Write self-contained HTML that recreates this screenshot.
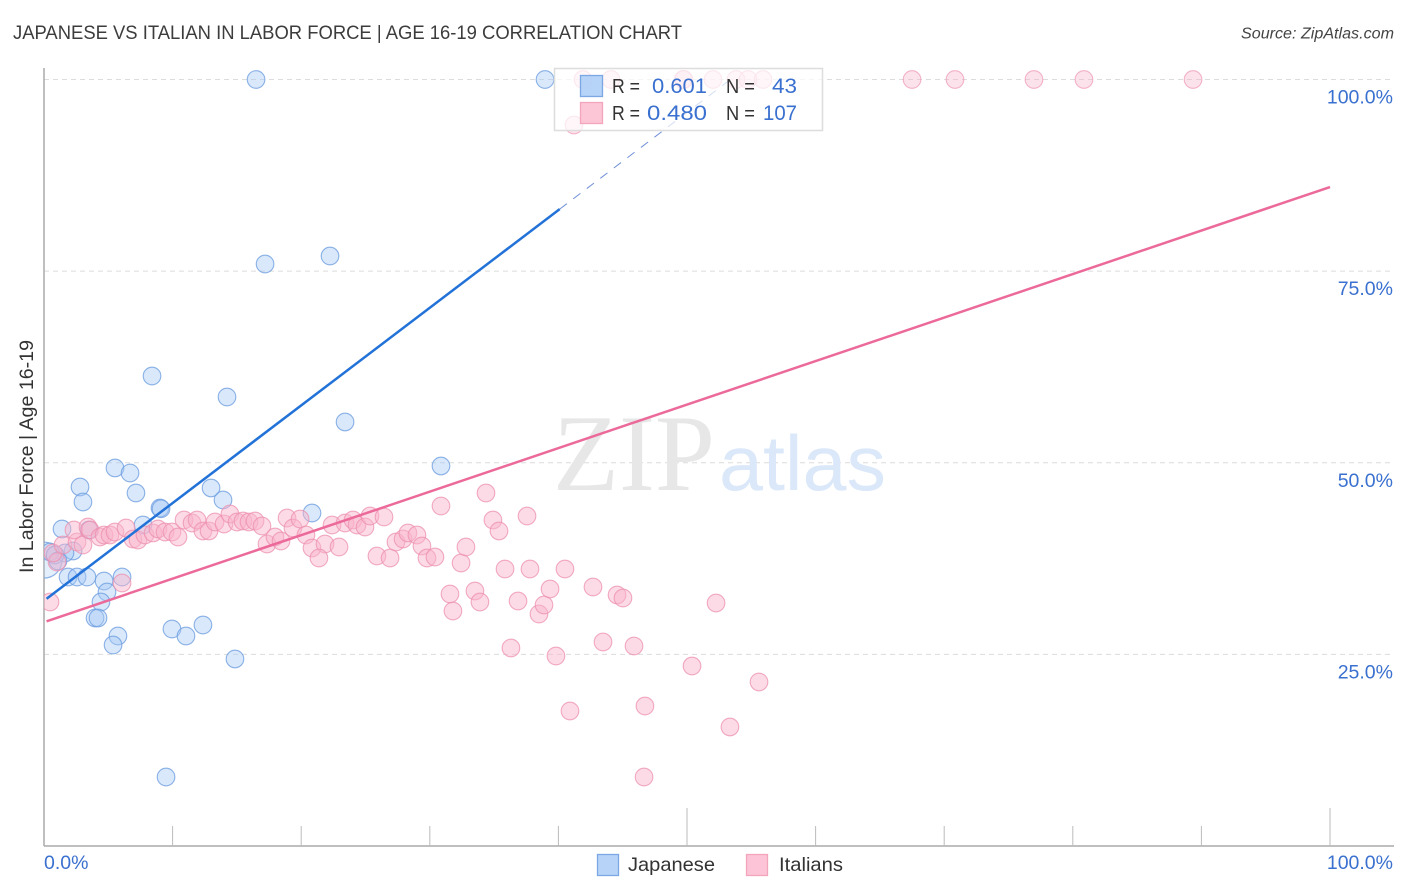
<!DOCTYPE html>
<html lang="en">
<head>
<meta charset="utf-8">
<title>Japanese vs Italian in Labor Force | Age 16-19 Correlation Chart</title>
<style>
html,body{margin:0;padding:0;background:#fff;width:1406px;height:892px;overflow:hidden}
svg{display:block}
text{font-family:"Liberation Sans",sans-serif}
</style>
</head>
<body>
<svg id="chart" width="1406" height="892" viewBox="0 0 1406 892" xmlns="http://www.w3.org/2000/svg">
  <defs>
    <clipPath id="plot-clip"><rect x="44" y="60" width="1350" height="786"/></clipPath>
  </defs>
  <rect width="1406" height="892" fill="#ffffff"/>
  <text x="13" y="39" font-size="19" fill="#3c3c3c" textLength="669" lengthAdjust="spacingAndGlyphs">JAPANESE VS ITALIAN IN LABOR FORCE | AGE 16-19 CORRELATION CHART</text>
  <text x="1241" y="38.5" font-size="15.5" font-style="italic" fill="#444444" textLength="153" lengthAdjust="spacingAndGlyphs">Source: ZipAtlas.com</text>
  <g id="grid"></g>
  <g>
    <text x="553" y="490" font-size="109" fill="#e7e7e7" style="font-family:'Liberation Serif',serif" textLength="162" lengthAdjust="spacingAndGlyphs">ZIP</text>
    <text x="719" y="490" font-size="78" fill="#dbe8f9" textLength="167" lengthAdjust="spacingAndGlyphs">atlas</text>
  </g>
  <g id="axes"></g>
  <g clip-path="url(#plot-clip)">
    <g id="points-japanese"></g>
    <g id="points-italian"></g>
    <g id="fits"></g>
  </g>
  <text transform="translate(33,573) rotate(-90)" font-size="19" fill="#333333" textLength="233" lengthAdjust="spacingAndGlyphs">In Labor Force | Age 16-19</text>
  <g id="tick-labels"></g>
  <g>
    <rect x="554.5" y="68.5" width="268" height="62" fill="#ffffff" fill-opacity="0.7" stroke="#dddddd" stroke-width="1.5"/>
    <rect x="580.5" y="75.5" width="22" height="21" fill="#a9cbf7" fill-opacity="0.85" stroke="#7ba7e4" stroke-width="1.3"/>
    <rect x="580.5" y="102.5" width="22" height="21" fill="#fcc0d3" fill-opacity="0.9" stroke="#f3a5bd" stroke-width="1.3"/>
    <text x="612" y="93" font-size="20" fill="#333333" textLength="28" lengthAdjust="spacingAndGlyphs">R =</text>
    <text x="652" y="93" font-size="21.5" fill="#3a70cf" textLength="55" lengthAdjust="spacingAndGlyphs">0.601</text>
    <text x="726" y="93" font-size="20" fill="#333333" textLength="29" lengthAdjust="spacingAndGlyphs">N =</text>
    <text x="772" y="93" font-size="21.5" fill="#3a70cf" textLength="25" lengthAdjust="spacingAndGlyphs">43</text>
    <text x="612" y="120" font-size="20" fill="#333333" textLength="28" lengthAdjust="spacingAndGlyphs">R =</text>
    <text x="647" y="120" font-size="21.5" fill="#3a70cf" textLength="60" lengthAdjust="spacingAndGlyphs">0.480</text>
    <text x="726" y="120" font-size="20" fill="#333333" textLength="29" lengthAdjust="spacingAndGlyphs">N =</text>
    <text x="763" y="120" font-size="21.5" fill="#3a70cf" textLength="34" lengthAdjust="spacingAndGlyphs">107</text>
  </g>
  <g>
    <g>
      <rect x="597.5" y="854.5" width="21" height="21" fill="#b7d4f8" stroke="#7ba7e4" stroke-width="1.3"/>
      <text x="628" y="871" font-size="19.5" fill="#333333" textLength="87" lengthAdjust="spacingAndGlyphs">Japanese</text>
    </g>
    <g>
      <rect x="746.5" y="854.5" width="21" height="21" fill="#fcc4d6" stroke="#f3a5bd" stroke-width="1.3"/>
      <text x="779" y="871" font-size="19.5" fill="#333333" textLength="64" lengthAdjust="spacingAndGlyphs">Italians</text>
    </g>
  </g>
</svg>
<script>
const japaneseX = [0,16.49,38.96,17.19,22.24,8.40,14.23,23.41,30.87,5.52,6.69,2.80,3.03,7.15,12.99,13.92,9.02,9.10,20.84,7.70,1.40,3.50,2.26,1.63,0.47,0.86,1.09,1.87,2.57,3.34,6.07,4.67,4.90,4.43,3.97,4.20,5.75,5.37,9.95,11.04,12.36,14.85,9.49];
const japaneseY = [37.3,100,100,75.93,76.97,61.32,58.58,55.32,49.58,49.32,48.66,46.84,44.88,46.05,46.71,45.14,44.10,44.00,43.44,41.88,41.36,41.23,38.49,38.23,38.36,37.96,37.18,35.09,35.09,35.09,35.09,34.57,33.14,31.83,29.75,29.75,27.40,26.22,28.31,27.40,28.83,24.40,9.00];
const italianX = [41.91,44.09,49.69,49.77,52.02,53.81,54.74,55.91,67.50,70.84,76.98,80.87,89.35,41.21,0.47,6.07,1.01,0.70,1.48,2.57,3.03,2.33,3.42,3.58,4.35,4.67,5.13,5.52,6.38,6.92,7.31,7.85,8.48,8.86,9.41,9.95,10.42,10.89,11.51,11.90,12.36,12.83,13.30,14.00,14.46,15.01,15.47,15.94,16.41,16.95,17.34,17.96,18.43,18.90,19.36,19.91,20.37,20.84,21.85,21.38,22.94,22.40,23.41,24.03,24.34,24.96,25.35,26.44,25.89,26.91,27.37,27.92,28.30,29.00,29.39,29.78,30.40,30.87,31.57,31.80,32.43,32.81,33.51,33.90,34.37,34.91,35.38,35.85,36.31,36.86,37.56,37.79,38.49,38.88,39.35,39.81,40.51,40.90,42.69,43.47,44.56,45.02,45.88,46.66,46.73,50.39,52.26,53.34,55.60];
const italianY = [100,100,100,100,100,100,100,100,100,100,100,100,100,94.06,31.83,34.31,37.05,38.23,39.27,39.66,39.27,41.23,41.62,41.23,40.31,40.57,40.57,40.97,41.49,40.05,39.92,40.57,40.84,41.36,40.97,40.97,40.31,42.53,42.14,42.53,41.10,41.10,42.27,42.01,43.31,42.27,42.40,42.27,42.40,41.75,39.40,40.31,39.79,42.79,41.49,42.66,40.57,38.88,39.40,37.57,39.01,41.88,42.14,42.53,41.88,41.62,43.05,42.92,37.83,37.57,39.66,40.05,40.84,40.57,39.14,37.57,37.70,44.36,32.88,30.66,36.92,39.01,33.27,31.83,46.05,42.53,41.10,36.14,25.83,31.96,43.05,36.14,30.27,31.44,33.53,24.79,36.14,17.61,33.79,26.61,32.75,32.35,26.09,9.00,18.26,23.48,31.70,15.53,21.40];
const japaneseFit = [32.0, 1.274];
const japaneseSolidEnd = 40.1;
const japaneseDashEnd = 53.4;
const italianFit = [29.2, 0.5677];
const xTickValues = [10,20,30,40,50,60,70,80,90,100];
const xTickMajor = [50,100];
const yGridValues = [25,50,75,100];
const yTickLabels = ["25.0%","50.0%","75.0%","100.0%"];
const xEndLabels = ["0.0%","100.0%"];

const NS = "http://www.w3.org/2000/svg";
const X0 = 44, X100 = 1330, Y0 = 846, Y100 = 79.5;
function xScale(v){ return X0 + (X100 - X0) * v / 100; }
function yScale(v){ return Y0 - (Y0 - Y100) * v / 100; }
function make(tag, parent, attrs){
  const el = document.createElementNS(NS, tag);
  for (const k in attrs) el.setAttribute(k, attrs[k]);
  parent.appendChild(el);
  return el;
}

const grid = document.getElementById("grid");
yGridValues.forEach(function(v){
  const line = make("line", grid, {x1:X0, x2:1394, y1:yScale(v), y2:yScale(v), stroke:"#dcdcdc", "stroke-width":1, "stroke-dasharray":"5 4"});
  
  
});

const axes = document.getElementById("axes");
const yAxisLine = make("line", axes, {x1:X0, x2:X0, y1:68, y2:Y0, stroke:"#aaaaaa", "stroke-width":1.5});


const xAxisLine = make("line", axes, {x1:X0, x2:1394, y1:Y0, y2:Y0, stroke:"#aaaaaa", "stroke-width":1.5});


xTickValues.forEach(function(v){
  const top = xTickMajor.indexOf(v) >= 0 ? 808 : 826;
  const tick = make("line", axes, {x1:xScale(v), x2:xScale(v), y1:top, y2:Y0, stroke:"#bbbbbb", "stroke-width":1});
  
  
});

const labels = document.getElementById("tick-labels");
yGridValues.forEach(function(v, i){
  const t = make("text", labels, {x:1393, y:yScale(v) + 24, "text-anchor":"end", "font-size":19.5, fill:"#3a70cf"});
  t.textContent = yTickLabels[i];
  
  
});
const xLabelLeft = make("text", labels, {x:44, y:869, "font-size":19.5, fill:"#3a70cf"});
xLabelLeft.textContent = xEndLabels[0];


const xLabelRight = make("text", labels, {x:1393, y:869, "text-anchor":"end", "font-size":19.5, fill:"#3a70cf"});
xLabelRight.textContent = xEndLabels[1];



const jGroup = document.getElementById("points-japanese");
japaneseX.forEach(function(v, i){
  const c = make("circle", jGroup, {cx:xScale(v), cy:yScale(japaneseY[i]), r:i === 0 ? 18 : 8.8, fill:"#a5c9f5", "fill-opacity":i === 0 ? 0.3 : 0.42, stroke:"#6f9fe0", "stroke-opacity":0.8, "stroke-width":1.1});
  
  
});

const iGroup = document.getElementById("points-italian");
italianX.forEach(function(v, i){
  const faded = italianY[i] > 90;
  const c = make("circle", iGroup, {cx:xScale(v), cy:yScale(italianY[i]), r:8.8, fill:"#f8b4ca", "fill-opacity":faded ? 0.38 : 0.48, stroke:"#ec8fae", "stroke-opacity":faded ? 0.65 : 0.75, "stroke-width":1.1});
  
  
});

function fitY(fit, x){ return fit[0] + fit[1] * x; }
const fits = document.getElementById("fits");
const jSolid = make("line", fits, {x1:xScale(0.2), y1:yScale(fitY(japaneseFit,0.2)), x2:xScale(japaneseSolidEnd), y2:yScale(fitY(japaneseFit,japaneseSolidEnd)), stroke:"#2272d8", "stroke-width":2.5});


const jDash = make("line", fits, {x1:xScale(japaneseSolidEnd), y1:yScale(fitY(japaneseFit,japaneseSolidEnd)), x2:xScale(japaneseDashEnd), y2:yScale(fitY(japaneseFit,japaneseDashEnd)), stroke:"#6f8fd8", "stroke-width":1, "stroke-dasharray":"9 8"});


const iSolid = make("line", fits, {x1:xScale(0.2), y1:yScale(fitY(italianFit,0.2)), x2:xScale(100), y2:yScale(fitY(italianFit,100)), stroke:"#ec6a9a", "stroke-width":2.5});


</script>
</body>
</html>
